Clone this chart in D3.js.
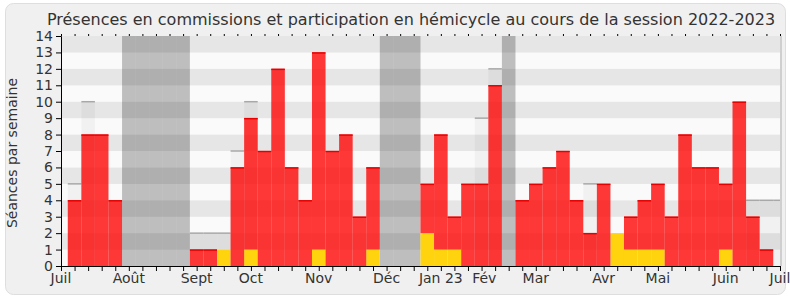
<!DOCTYPE html>
<html>
<head>
<meta charset="utf-8">
<script src="https://cdn.jsdelivr.net/npm/d3@7"></script>
<style>
body { margin: 0; background: #fff; }
text { font-family: "DejaVu Sans", sans-serif; fill: #333; }
</style>
</head>
<body>
<svg width="790" height="300"></svg>
<script>
// one entry per week, week 0 = start of July 2022
var commission = [0,4,8,8,4, 0,0,0,0,0, 1,1,0,6,8, 7,12,6,4,12, 7,8,3,5,0, 0,0,3,7,2, 5,5,11,0,4, 5,6,7,4,2, 5,0,2,3,4, 3,8,6,6,4, 10,3,1,0]
var hemicycle  = [0,0,0,0,0, 0,0,0,0,0, 0,0,1,0,1, 0,0,0,0,1, 0,0,0,1,0, 0,0,2,1,1, 0,0,0,0,0, 0,0,0,0,0, 0,2,1,1,1, 0,0,0,0,1, 0,0,0,0]
var mediane    = [0,5,10,0,0, 0,0,0,0,0, 2,2,2,7,10, 0,0,0,0,0, 0,0,0,0,0, 0,0,0,0,0, 0,9,12,0,0, 0,0,0,0,5, 0,0,0,0,0, 0,0,0,0,0, 0,4,4,4]
var vacances   = [5,6,7,8,9,24,25,26,33]
var monthLabels = ["Juil","Août","Sept","Oct","Nov","Déc","Jan 23","Fév","Mar","Avr","Mai","Juin","Juil"]
var monthWeeks  = [0,5,10,14,19,24,28,31.2,35,40,44,49,53]

var svg = d3.select("svg")
var x = d3.scaleLinear().domain([0, 53]).range([61, 780])
var y = d3.scaleLinear().domain([0, 14]).range([266, 36])
var step = x(1) - x(0)
var weeks = d3.range(54)

svg.append("rect").attr("x", 5.5).attr("y", 3.5).attr("width", 780).attr("height", 291).attr("rx", 8)
    .attr("style", "fill: #f0f0f0; stroke: #dedede")

svg.append("text").attr("x", 411).attr("y", 25).attr("text-anchor", "middle").attr("font-size", "16px")
    .text("Présences en commissions et participation en hémicycle au cours de la session 2022-2023")

svg.append("clipPath").attr("id", "plot").append("rect")
    .attr("x", x(0)).attr("y", y(14)).attr("width", x(53) - x(0)).attr("height", y(0) - y(14))
var g = svg.append("g").attr("clip-path", "url(#plot)")

// background stripes
g.selectAll(".band").data(d3.range(14)).enter().append("rect")
    .attr("x", x(0)).attr("width", x(53) - x(0))
    .attr("y", function(d) { return y(d + 1) }).attr("height", y(0) - y(1))
    .attr("fill", function(d) { return d % 2 == 1 ? "#e6e6e6" : "#fafafa" })

// holidays
g.selectAll(".vac").data(vacances).enter().append("rect")
    .attr("x", function(d) { return x(d - 0.5) }).attr("width", step)
    .attr("y", y(14)).attr("height", y(0) - y(14))
    .attr("style", "fill: #000; opacity: 0.24")

// median
var med = weeks.filter(function(k) { return mediane[k] > 0 })
g.selectAll(".med").data(med).enter().append("rect")
    .attr("x", function(k) { return x(k - 0.5) }).attr("width", step)
    .attr("y", function(k) { return y(mediane[k]) }).attr("height", function(k) { return y(0) - y(mediane[k]) })
    .attr("style", "fill: #000; opacity: 0.035")
g.selectAll(".medtop").data(med).enter().append("line")
    .attr("x1", function(k) { return x(k - 0.5) }).attr("x2", function(k) { return x(k + 0.5) })
    .attr("y1", function(k) { return y(mediane[k]) }).attr("y2", function(k) { return y(mediane[k]) })
    .attr("style", "stroke: #a8a8a8; stroke-width: 1.5")

// hemicycle at the bottom, commission stacked on top
var hem = weeks.filter(function(k) { return hemicycle[k] > 0 })
g.selectAll(".hem").data(hem).enter().append("rect")
    .attr("x", function(k) { return x(k - 0.5) }).attr("width", step)
    .attr("y", function(k) { return y(hemicycle[k]) }).attr("height", function(k) { return y(0) - y(hemicycle[k]) })
    .attr("fill", "#ffd30d")

var com = weeks.filter(function(k) { return commission[k] > 0 })
g.selectAll(".com").data(com).enter().append("rect")
    .attr("x", function(k) { return x(k - 0.5) }).attr("width", step)
    .attr("y", function(k) { return y(hemicycle[k] + commission[k]) })
    .attr("height", function(k) { return y(hemicycle[k]) - y(hemicycle[k] + commission[k]) })
    .attr("style", "fill: #ff0000; opacity: 0.78")
g.selectAll(".comtop").data(com).enter().append("line")
    .attr("x1", function(k) { return x(k - 0.5) }).attr("x2", function(k) { return x(k + 0.5) })
    .attr("y1", function(k) { return y(hemicycle[k] + commission[k]) + 0.5 })
    .attr("y2", function(k) { return y(hemicycle[k] + commission[k]) + 0.5 })
    .attr("style", "stroke: #e60000; stroke-width: 1.5")

// right edge
svg.append("line").attr("x1", x(53) + 1).attr("x2", x(53) + 1).attr("y1", y(14)).attr("y2", y(0))
    .attr("style", "stroke: #c4c4c4; stroke-width: 1.5")

// axes
var yAxis = svg.append("g").attr("transform", "translate(" + x(0) + ",0)")
    .call(d3.axisLeft(y).ticks(14).tickSize(5).tickPadding(3))
yAxis.selectAll("text").attr("font-size", "14px").attr("font-family", null)

svg.append("g").attr("transform", "translate(0," + y(0) + ")")
    .call(d3.axisBottom(x).tickValues(weeks).tickSize(5).tickFormat(""))
svg.append("g").attr("transform", "translate(0," + y(14) + ")")
    .call(d3.axisTop(x).tickValues(weeks).tickSize(2).tickFormat(""))
    .select(".domain").remove()

svg.selectAll(".month").data(monthLabels).enter().append("text")
    .attr("x", function(d, i) { return x(monthWeeks[i]) }).attr("y", 282.5)
    .attr("text-anchor", "middle").attr("font-size", "14px")
    .text(function(d) { return d })

svg.append("text").attr("transform", "translate(17,153) rotate(-90)")
    .attr("text-anchor", "middle").attr("font-size", "14px")
    .text("Séances par semaine")
</script>
</body>
</html>
